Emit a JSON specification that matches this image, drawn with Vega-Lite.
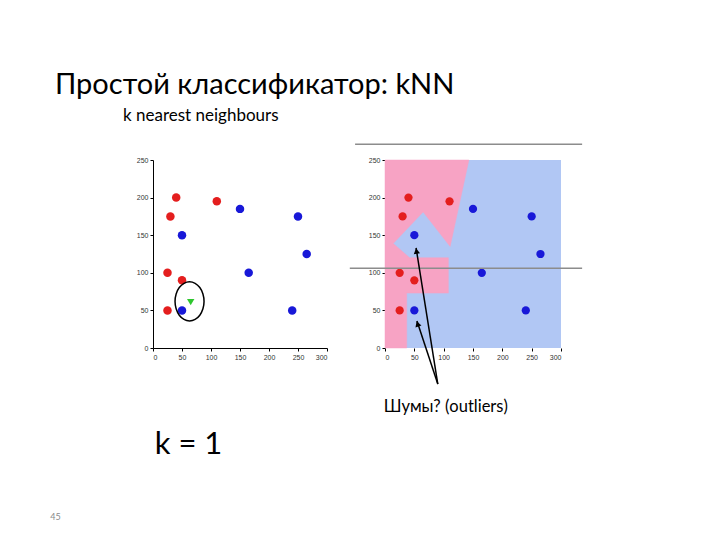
{
  "$schema": "https://vega.github.io/schema/vega-lite/v6.json",
  "background": "white",
  "padding": {"left": 50, "top": 70, "right": 5, "bottom": 5},
  "title": {"text": "Простой классификатор: kNN", "anchor": "start", "frame": "group", "dx": -98, "offset": 7, "font": "Lato, Noto Sans, sans-serif", "fontSize": 29, "fontWeight": "normal", "color": "#000000"},
  "bounds": "flush",
  "spacing": 58,
  "datasets": {
    "pts": [
      {"x": 40, "y": 200, "cls": "red"},
      {"x": 110, "y": 195, "cls": "red"},
      {"x": 30, "y": 175, "cls": "red"},
      {"x": 25, "y": 100, "cls": "red"},
      {"x": 50, "y": 90, "cls": "red"},
      {"x": 25, "y": 50, "cls": "red"},
      {"x": 150, "y": 185, "cls": "blue"},
      {"x": 250, "y": 175, "cls": "blue"},
      {"x": 50, "y": 150, "cls": "blue"},
      {"x": 265, "y": 125, "cls": "blue"},
      {"x": 165, "y": 100, "cls": "blue"},
      {"x": 50, "y": 50, "cls": "blue"},
      {"x": 240, "y": 50, "cls": "blue"}
    ]
  },
  "hconcat": [
    {
      "width": 174,
      "height": 188,
      "title": {"text": "k nearest neighbours", "anchor": "start", "frame": "group", "dx": -30, "offset": 31.5, "font": "Lato, Noto Sans, sans-serif", "fontSize": 17, "fontWeight": "normal", "color": "#000000"},
      "encoding": {
        "x": {"field": "x", "type": "quantitative", "scale": {"domain": [0, 300], "nice": false}, "axis": {"title": null, "values": [0, 50, 100, 150, 200, 250, 300], "labelOverlap": false}},
        "y": {"field": "y", "type": "quantitative", "scale": {"domain": [0, 250], "nice": false}, "axis": {"title": null, "values": [0, 50, 100, 150, 200, 250], "labelOverlap": false}}
      },
      "layer": [
        {
          "data": {"name": "pts"},
          "mark": {"type": "circle", "size": 72, "opacity": 1},
          "encoding": {
            "color": {"field": "cls", "type": "nominal", "scale": {"domain": ["red", "blue"], "range": ["#e41e1e", "#1818d8"]}, "legend": null}
          }
        },
        {
          "data": {"values": [{"x": 65, "y": 61}]},
          "mark": {"type": "point", "shape": "triangle-down", "filled": true, "size": 55, "color": "#2ec62e", "opacity": 1}
        },
        {
          "data": {"values": [
            {"i": 0, "x": 88, "y": 62}, {"i": 1, "x": 86.1, "y": 71.9}, {"i": 2, "x": 80.7, "y": 80.4}, {"i": 3, "x": 72.6, "y": 86},
            {"i": 4, "x": 63, "y": 88}, {"i": 5, "x": 53.4, "y": 86}, {"i": 6, "x": 45.3, "y": 80.4}, {"i": 7, "x": 39.9, "y": 71.9},
            {"i": 8, "x": 38, "y": 62}, {"i": 9, "x": 39.9, "y": 52.1}, {"i": 10, "x": 45.3, "y": 43.6}, {"i": 11, "x": 53.4, "y": 38},
            {"i": 12, "x": 63, "y": 36}, {"i": 13, "x": 72.6, "y": 38}, {"i": 14, "x": 80.7, "y": 43.6}, {"i": 15, "x": 86.1, "y": 52.1}
          ]},
          "mark": {"type": "line", "interpolate": "cardinal-closed", "color": "#000000", "strokeWidth": 1.5},
          "encoding": {"order": {"field": "i", "type": "quantitative"}}
        },
        {
          "data": {"values": [{"x": 3, "y": -141, "label": "k = 1"}]},
          "mark": {"type": "text", "align": "left", "baseline": "alphabetic", "font": "Lato, Noto Sans, sans-serif", "fontSize": 31, "color": "#000000"},
          "encoding": {"text": {"field": "label"}}
        },
        {
          "data": {"values": [{"x": -177, "y": -229, "label": "45"}]},
          "mark": {"type": "text", "align": "left", "baseline": "alphabetic", "font": "Lato, Noto Sans, sans-serif", "fontSize": 9, "color": "#8a8a8a"},
          "encoding": {"text": {"field": "label"}}
        }
      ]
    },
    {
      "width": 176,
      "height": 188,
      "encoding": {
        "x": {"field": "x", "type": "quantitative", "scale": {"domain": [0, 300], "nice": false}, "axis": {"title": null, "values": [0, 50, 100, 150, 200, 250, 300], "labelOverlap": false, "domain": false}},
        "y": {"field": "y", "type": "quantitative", "scale": {"domain": [0, 250], "nice": false}, "axis": {"title": null, "values": [0, 50, 100, 150, 200, 250], "labelOverlap": false, "domain": false}}
      },
      "layer": [
        {
          "data": {"values": [{"x": 0, "x2": 300, "y": 0, "y2": 250}]},
          "mark": {"type": "rect", "color": "#b1c7f4", "opacity": 1},
          "encoding": {"x2": {"field": "x2"}, "y2": {"field": "y2"}}
        },
        {
          "data": {"values": [
            {"i": 0, "x": 0, "y": 250}, {"i": 1, "x": 143, "y": 250}, {"i": 2, "x": 111, "y": 135}, {"i": 3, "x": 65, "y": 181},
            {"i": 4, "x": 14, "y": 139}, {"i": 5, "x": 42, "y": 120}, {"i": 6, "x": 108, "y": 120}, {"i": 7, "x": 108, "y": 73},
            {"i": 8, "x": 37, "y": 73}, {"i": 9, "x": 37, "y": 0}, {"i": 10, "x": 0, "y": 0}
          ]},
          "mark": {"type": "line", "interpolate": "linear-closed", "fill": "#f7a3c4", "stroke": "#f7a3c4", "strokeWidth": 0.5},
          "encoding": {"order": {"field": "i", "type": "quantitative"}}
        },
        {
          "data": {"name": "pts"},
          "mark": {"type": "circle", "size": 68, "opacity": 1},
          "encoding": {"color": {"field": "cls", "type": "nominal", "legend": null}}
        },
        {
          "data": {"values": [{"x": -60, "x2": 336, "y": 106}, {"x": -51, "x2": 336, "y": 271}]},
          "mark": {"type": "rule", "color": "#8c8c8c", "strokeWidth": 1.5},
          "encoding": {"x2": {"field": "x2"}}
        },
        {
          "data": {"values": [{"x": 90, "y": -48, "x2": 53, "y2": 133}, {"x": 90, "y": -48, "x2": 54.5, "y2": 36}]},
          "mark": {"type": "rule", "color": "#000000", "strokeWidth": 1.5},
          "encoding": {"x2": {"field": "x2"}, "y2": {"field": "y2"}}
        },
        {
          "data": {"values": [{"x": 53.6, "y": 129}]},
          "mark": {"type": "point", "shape": "triangle-up", "filled": true, "size": 40, "angle": -9, "color": "#000000", "opacity": 1}
        },
        {
          "data": {"values": [{"x": 55.5, "y": 32}]},
          "mark": {"type": "point", "shape": "triangle-up", "filled": true, "size": 40, "angle": -19, "color": "#000000", "opacity": 1}
        },
        {
          "data": {"values": [{"x": -2, "y": -85, "label": "Шумы? (outliers)"}]},
          "mark": {"type": "text", "align": "left", "baseline": "alphabetic", "font": "Lato, Noto Sans, sans-serif", "fontSize": 16.5, "color": "#000000"},
          "encoding": {"text": {"field": "label"}}
        }
      ]
    }
  ],
  "config": {
    "view": {"stroke": null},
    "axis": {"grid": false, "labelOverlap": false, "labelFont": "Liberation Sans", "labelFontSize": 7, "labelColor": "#333333", "domainColor": "#000000", "domainWidth": 1, "tickColor": "#000000", "tickSize": 3, "labelPadding": 2}
  }
}
